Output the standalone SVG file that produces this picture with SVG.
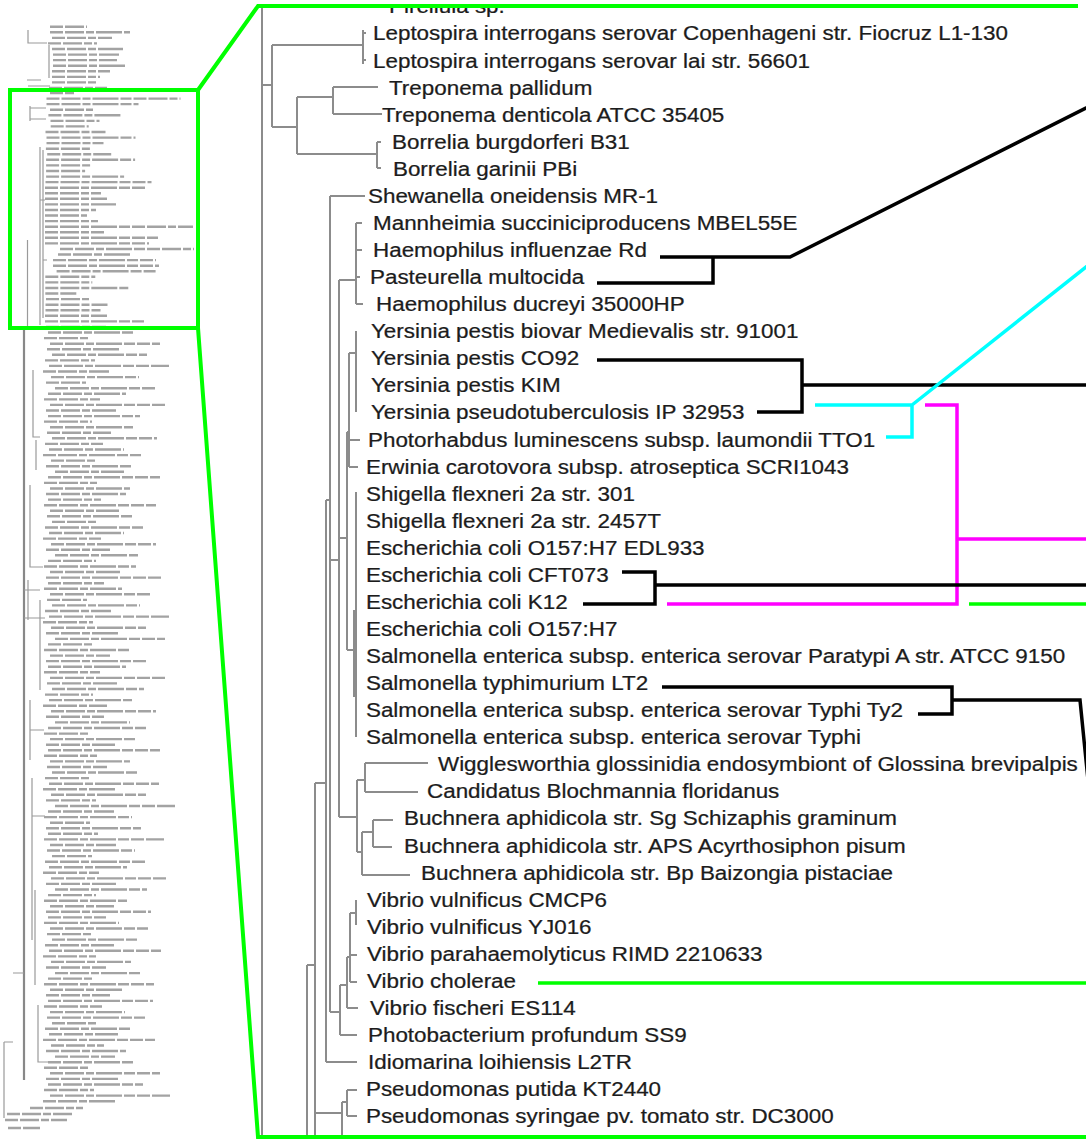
<svg xmlns="http://www.w3.org/2000/svg" width="1086" height="1139" viewBox="0 0 1086 1139">
  <defs>
    <style>
      .lbl text { font-family: "Liberation Sans", Arial, Helvetica, sans-serif; font-size: 21px; fill: #1c1c1c; stroke: #1c1c1c; stroke-width: 0.25; }
      .br { fill: none; stroke: #8c8c8c; stroke-width: 2; }
      .cn { fill: none; stroke-width: 3.5; }
      .k { stroke: #000; }
      .c { stroke: #00ffff; }
      .m { stroke: #ff00ff; }
      .g { stroke: #00ff00; }
      .zoom { fill: none; stroke: #00ff00; stroke-width: 4; }
      .tt { fill: none; stroke: #a3a3a3; stroke-width: 2.4; stroke-dasharray: 13 2 19 2 8 2 26 2 11 2; }
      .tb { fill: none; stroke: #9a9a9a; stroke-width: 1.2; }
      .tm { fill: none; stroke: #888; stroke-width: 2.2; }
    </style>
    <clipPath id="panelClip">
      <rect x="258" y="8" width="840" height="1127"/>
    </clipPath>
    <!-- the first leaf row runs under the top edge of the frame -->
    <clipPath id="topRowClip">
      <rect x="0" y="8" width="1100" height="30"/>
    </clipPath>
  </defs>

  <rect width="1086" height="1139" fill="#fff"/>

  <!-- overview tree (miniature, unreadable at this size) -->
  <g id="overview">
    <path class="tm" d="M24 326V1080"/>
    <path class="tb" d="M28 30V43H47 M49 45V78 M27 80H41 M28 86H50 M30 106V121 M30 108H46 M30 119H46 M40 147V325 M43 150V318 M40 200H45 M43 260H47 M27.5 240V330 M33 370V437H40 M36 440V470 M30 485V567H43 M24 590H40 M24 618H45 M28 580V620 M40 600V690 M30 700V760 M30 730H44 M32 778V940 M32 816H45 M35 890V985 M13 973H24 M38 1005V1062H50 M4 1042V1118 M4 1042H13"/>
    <path class="tt" d="M50 26.7h37M50 32.3h80M52 37.9h60M48 43.4h49M52 49h71M53 54.6h66M53 60.1h64M53 65.7h72M52 71.3h58M52 76.9h48M52 82.4h45M49 88h58
M50 93h24M46.5 98.6h134M46.5 104.1h92M50 109.7h43M48.4 115.3h72M50.5 120.9h49M50.7 126.4h38M45.5 132h60M46.5 137.6h89M46.5 143.1h57M45.9 148.7h45M47.2 154.3h64M46.1 159.8h89M46.1 165.4h44M46.1 171h39M46.1 176.6h78M45.5 182.1h106M45 187.7h101M45 193.3h56M45 198.8h62M45 204.4h71M45 210h51M45 215.5h42M45 221.1h53M45 226.7h148M45 232.3h59M45 237.8h113M45 243.4h104M60 249h134M58 254.5h74M53 260.1h103M53 265.7h106M56.6 271.2h99M45.3 276.8h50M45.3 282.4h47M45.3 288h83M45.3 293.5h31M46 299.1h43M45.5 304.7h62M45.5 310.2h55M45 315.8h62M45 321.4h99
M46 326.9h60M48 332.5h85M44 338.1h45M50 343.7h110M47 349.2h72M52 354.8h95M45 360.4h50M49 365.9h120M43 371.5h66M51 377.1h88M46 382.6h40M55 388.2h102M48 393.8h78M44 399.4h56M50 404.9h115M46 410.5h70M48 416.1h92M44 421.6h48M50 427.2h83M47 432.8h64M52 438.3h105M45 443.9h58M49 449.5h75M43 455.1h98M51 460.6h44M46 466.2h87M55 471.8h69M48 477.3h112M44 482.9h53M50 488.5h80
M46 494h80M48 499.6h53M44 505.2h112M50 510.8h69M47 516.3h87M52 521.9h44M45 527.5h98M49 533h75M43 538.6h58M51 544.2h105M46 549.7h64M55 555.3h83M48 560.9h48M44 566.5h92M50 572h70M46 577.6h115M48 583.2h56M44 588.7h78M50 594.3h102M47 599.9h40M52 605.4h88M45 611h66M49 616.6h120M43 622.2h50M51 627.7h95M46 633.3h72M55 638.9h110M48 644.4h45M44 650h85M50 655.6h60
M46 661.1h102M48 666.7h78M44 672.3h56M50 677.9h115M47 683.4h70M52 689h92M45 694.6h48M49 700.1h83M43 705.7h64M51 711.3h105M46 716.8h58M55 722.4h75M48 728h98M44 733.6h44M50 739.1h87M46 744.7h69M48 750.3h112M44 755.8h53M50 761.4h80M47 767h60M52 772.5h85M45 778.1h45M49 783.7h110M43 789.3h72M51 794.8h95M46 800.4h50M55 806h120M48 811.5h66M44 817.1h88M50 822.7h40
M46 828.2h95M48 833.8h50M44 839.4h120M50 845h66M47 850.5h88M52 856.1h40M45 861.7h102M49 867.2h78M43 872.8h56M51 878.4h115M46 883.9h70M55 889.5h92M48 895.1h48M44 900.7h83M50 906.2h64M46 911.8h105M48 917.4h58M44 922.9h75M50 928.5h98M47 934.1h44M52 939.6h87M45 945.2h69M49 950.8h112M43 956.4h53M51 961.9h80M46 967.5h60M55 973.1h85M48 978.6h45M44 984.2h110M50 989.8h72
M46 995.3h64M48 1000.9h105M44 1006.5h58M50 1012.1h75M47 1017.6h98M52 1023.2h44M45 1028.8h87M49 1034.3h69M43 1039.9h112M51 1045.5h53M46 1051h80M55 1056.6h60M48 1062.2h85M44 1067.8h45M50 1073.3h110M46 1078.9h72M48 1084.5h95M44 1090h50M50 1095.6h120M43 1101.2h74M30 1108h53M7 1114h65M5 1120h62M8 1128h32"/>
  </g>

  <!-- enlarged tree: branches -->
  <g id="tree-branches" clip-path="url(#panelClip)">
    <path class="br" d="M262 8V1137
M262 85H272 M272 45V127 M272 45H363 M363 30V64 M363 33H366 M363 60H366 M272 127H297 M297 97V154 M297 97H333 M333 87V114 M333 87H378 M333 114H382 M297 154H377 M377 142V168 M377 142H381 M377 168H381
M330 196V1012 M330 196H365
M326 500V1062 M326 500H330 M326 1062H357 M315 783H326
M339 280V817 M330 560H339 M339 280H356 M356 223V304 M356 223H362 M356 250H362 M356 277H360 M356 304H363
M339 538H347 M347 432V650 M347 432H349 M349 353V467 M349 353H356 M356 331V412 M349 440H360 M349 467H358 M347 650H356 M356 492V737 M354 610V697
M339 817H357 M357 780V852 M357 780H365 M365 763V792 M365 763H428 M365 792H418 M357 852H362 M362 832V875 M362 832H373 M373 820V847 M373 820H393 M373 847H392 M362 875H410
M330 1012H340 M340 985V1035 M340 1035H357 M340 985H347 M347 957V1008 M347 1008H358 M347 957H350 M350 913V982 M350 955H357 M350 982H357 M350 913H356 M356 900V925
M315 783V1137 M307 965V1137 M307 965H315 M315 1113H342 M342 1102V1137 M342 1102H347 M347 1090V1116 M347 1090H357 M347 1116H357"/>
  </g>

  <!-- enlarged tree: leaf labels (glyphs widened horizontally) -->
  <g class="lbl" transform="scale(1.067 1)">
    <g id="leaf-pirellula" clip-path="url(#topRowClip)"><text x="364.6" y="13.4">Pirellula sp.</text></g>
    <g id="leaf-lepto-copenhageni"><text x="349.6" y="40.5">Leptospira interrogans serovar Copenhageni str. Fiocruz L1-130</text></g>
    <g id="leaf-lepto-lai"><text x="349.6" y="67.6">Leptospira interrogans serovar lai str. 56601</text></g>
    <g id="leaf-treponema-pallidum"><text x="364.6" y="94.6">Treponema pallidum</text></g>
    <g id="leaf-treponema-denticola"><text x="358" y="121.7">Treponema denticola ATCC 35405</text></g>
    <g id="leaf-borrelia-burgdorferi"><text x="367.4" y="148.8">Borrelia burgdorferi B31</text></g>
    <g id="leaf-borrelia-garinii"><text x="368.3" y="175.9">Borrelia garinii PBi</text></g>
    <g id="leaf-shewanella"><text x="344.9" y="202.9">Shewanella oneidensis MR-1</text></g>
    <g id="leaf-mannheimia"><text x="349.6" y="230">Mannheimia succiniciproducens MBEL55E</text></g>
    <g id="leaf-h-influenzae"><text x="349.6" y="257.1">Haemophilus influenzae Rd</text></g>
    <g id="leaf-pasteurella"><text x="346.8" y="284.1">Pasteurella multocida</text></g>
    <g id="leaf-h-ducreyi"><text x="352.4" y="311.2">Haemophilus ducreyi 35000HP</text></g>
    <g id="leaf-yp-medievalis"><text x="347.7" y="338.3">Yersinia pestis biovar Medievalis str. 91001</text></g>
    <g id="leaf-yp-co92"><text x="347.7" y="365.3">Yersinia pestis CO92</text></g>
    <g id="leaf-yp-kim"><text x="347.7" y="392.4">Yersinia pestis KIM</text></g>
    <g id="leaf-y-pseudotb"><text x="347.7" y="419.5">Yersinia pseudotuberculosis IP 32953</text></g>
    <g id="leaf-photorhabdus"><text x="344.9" y="446.6">Photorhabdus luminescens subsp. laumondii TTO1</text></g>
    <g id="leaf-erwinia"><text x="343" y="473.6">Erwinia carotovora subsp. atroseptica SCRI1043</text></g>
    <g id="leaf-shigella-301"><text x="343" y="500.7">Shigella flexneri 2a str. 301</text></g>
    <g id="leaf-shigella-2457t"><text x="343" y="527.8">Shigella flexneri 2a str. 2457T</text></g>
    <g id="leaf-ecoli-edl933"><text x="343" y="554.8">Escherichia coli O157:H7 EDL933</text></g>
    <g id="leaf-ecoli-cft073"><text x="343" y="581.9">Escherichia coli CFT073</text></g>
    <g id="leaf-ecoli-k12"><text x="343" y="609">Escherichia coli K12</text></g>
    <g id="leaf-ecoli-o157"><text x="343" y="636">Escherichia coli O157:H7</text></g>
    <g id="leaf-salmonella-paratypi"><text x="343" y="663.1">Salmonella enterica subsp. enterica serovar Paratypi A str. ATCC 9150</text></g>
    <g id="leaf-salmonella-lt2"><text x="343" y="690.2">Salmonella typhimurium LT2</text></g>
    <g id="leaf-salmonella-ty2"><text x="343" y="717.3">Salmonella enterica subsp. enterica serovar Typhi Ty2</text></g>
    <g id="leaf-salmonella-typhi"><text x="343" y="744.3">Salmonella enterica subsp. enterica serovar Typhi</text></g>
    <g id="leaf-wigglesworthia"><text x="410.5" y="771.4">Wigglesworthia glossinidia endosymbiont of Glossina brevipalpis</text></g>
    <g id="leaf-blochmannia"><text x="400.2" y="798.5">Candidatus Blochmannia floridanus</text></g>
    <g id="leaf-buchnera-sg"><text x="378.6" y="825.5">Buchnera aphidicola str. Sg Schizaphis graminum</text></g>
    <g id="leaf-buchnera-aps"><text x="378.6" y="852.6">Buchnera aphidicola str. APS Acyrthosiphon pisum</text></g>
    <g id="leaf-buchnera-bp"><text x="394.6" y="879.7">Buchnera aphidicola str. Bp Baizongia pistaciae</text></g>
    <g id="leaf-vv-cmcp6"><text x="344" y="906.7">Vibrio vulnificus CMCP6</text></g>
    <g id="leaf-vv-yj016"><text x="344" y="933.8">Vibrio vulnificus YJ016</text></g>
    <g id="leaf-v-parahaemolyticus"><text x="344" y="960.9">Vibrio parahaemolyticus RIMD 2210633</text></g>
    <g id="leaf-v-cholerae"><text x="344" y="988">Vibrio cholerae</text></g>
    <g id="leaf-v-fischeri"><text x="346.8" y="1015">Vibrio fischeri ES114</text></g>
    <g id="leaf-photobacterium"><text x="344.9" y="1042.1">Photobacterium profundum SS9</text></g>
    <g id="leaf-idiomarina"><text x="344.9" y="1069.2">Idiomarina loihiensis L2TR</text></g>
    <g id="leaf-ps-putida"><text x="343" y="1096.2">Pseudomonas putida KT2440</text></g>
    <g id="leaf-ps-syringae"><text x="343" y="1123.3">Pseudomonas syringae pv. tomato str. DC3000</text></g>
  </g>

  <!-- highlight connectors -->
  <g id="connectors">
    <path class="cn k" d="M660 257H790L1100 101 M597 283H713V257"/>
    <path class="cn k" d="M597 360H802V412H757 M802 385H1100"/>
    <path class="cn c" d="M815 405H912V437H886 M912 405L1100 256"/>
    <path class="cn m" d="M925 405H957V604H667 M957 539H1100"/>
    <path class="cn k" d="M622 572H655V604H583 M655 585H1100"/>
    <path class="cn g" d="M969 604H1100 M538 983H1100"/>
    <path class="cn k" d="M662 687H952V714H918 M952 700H1080L1089 790"/>
  </g>

  <!-- zoom frame -->
  <g id="zoom-frame">
    <rect class="zoom" x="10" y="90" width="188" height="238"/>
    <path class="zoom" d="M198 90L258 6H1078 M198 328L258 1137H1100"/>
  </g>
</svg>
